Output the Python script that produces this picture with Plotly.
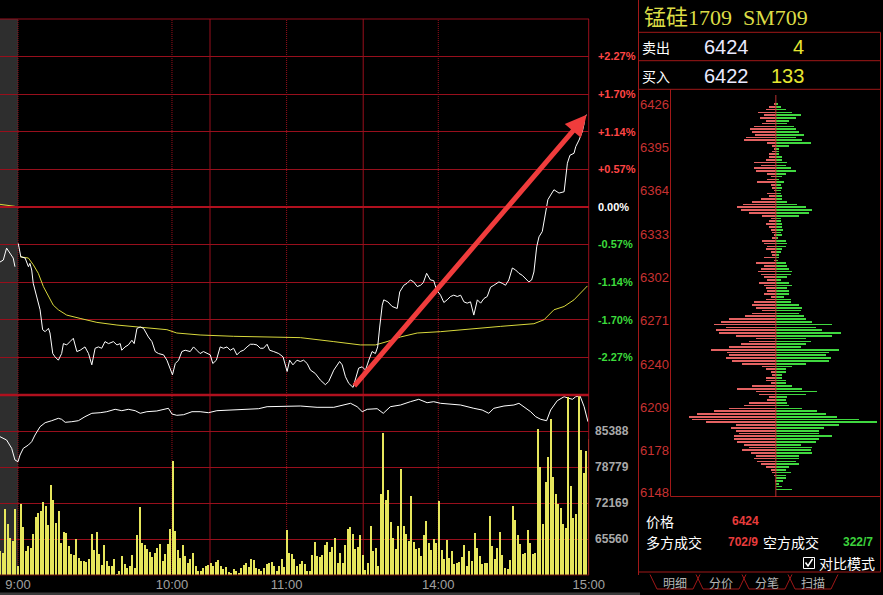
import plotly.graph_objects as go

# ---------------- DATA ----------------
# price line: trading-minute index (0 = 9:00) and % change vs. previous settle
price_minute = [0.1, 1.1, 2.8, 4.1, 4.7, 5.4, 6.0, 7.4, 8.7, 9.7, 10.7, 12.0, 12.6, 13.7, 14.6, 15.9, 17.2, 17.9, 19.2, 20.5,
                21.8, 23.2, 24.5, 26.4, 27.8, 29.1, 30.4, 31.7, 33.0, 34.3, 35.7, 37.6, 39.0, 40.3, 40.9, 42.2, 43.5, 44.9, 45.8, 46.9,
                48.2, 49.5, 51.4, 52.8, 54.1, 55.4, 57.4, 58.7, 60.0, 60.9, 62.0, 63.3, 64.6, 65.9, 67.9, 69.2, 70.5, 71.8, 73.1, 74.5,
                75.8, 76.8, 78.2, 79.7, 81.0, 82.4, 83.7, 85.0, 86.3, 87.6, 88.9, 90.3, 91.6, 92.9, 94.2, 95.5, 96.8, 98.2, 99.2, 100.8,
                102.8, 104.5, 106.1, 107.1, 108.4, 110.0, 111.3, 112.6, 114.0, 115.3, 117.2, 119.2, 121.2, 122.5, 124.5, 126.8, 127.8,
                129.1, 130.4, 132.1, 133.0, 134.3, 135.7, 137.0, 138.3, 139.6, 140.9, 141.8, 142.6, 143.6, 144.2, 145.8, 147.5, 149.5,
                150.5, 152.1, 153.4, 154.7, 156.0, 157.4, 158.7, 159.8, 161.1, 162.6, 163.9, 165.0, 166.6, 167.9, 169.2, 170.5, 171.8,
                173.2, 174.5, 175.8, 177.1, 178.4, 179.7, 181.1, 182.4, 183.7, 185.0, 186.3, 187.6, 189.6, 190.9, 192.2, 193.5, 194.9,
                196.2, 197.5, 198.8, 200.1, 201.4, 202.5, 203.4, 204.5, 205.4, 206.7, 208.0, 208.9, 210.0, 211.3, 213.3, 215.3, 216.6,
                217.6, 219.2, 219.9, 221.2, 222.5, 223.2, 223.4, 224.2]
price_pct = [-0.55, -0.75, -0.77, -0.90, -0.85, -0.95, -1.15, -1.35, -1.55, -1.85, -1.88, -1.83, -1.90, -2.21, -2.26, -2.31, -2.21, -2.06, -2.08, -2.03,
             -1.98, -2.18, -2.16, -2.11, -2.21, -2.38, -2.13, -2.11, -2.13, -2.03, -2.06, -2.03, -2.08, -2.06, -2.16, -2.11, -2.08, -2.01, -2.06, -1.83,
             -1.81, -1.83, -1.96, -2.03, -2.18, -2.21, -2.23, -2.31, -2.46, -2.53, -2.36, -2.31, -2.18, -2.16, -2.18, -2.11, -2.16, -2.21, -2.18, -2.21,
             -2.23, -2.36, -2.31, -2.11, -2.13, -2.11, -2.16, -2.13, -2.23, -2.18, -2.16, -2.11, -2.07, -2.07, -2.08, -2.13, -2.13, -2.07, -2.16, -2.18,
             -2.21, -2.26, -2.48, -2.31, -2.38, -2.31, -2.33, -2.31, -2.36, -2.46, -2.51, -2.61, -2.68, -2.63, -2.46, -2.33, -2.38,
             -2.56, -2.66, -2.72, -2.61, -2.43, -2.41, -2.46, -2.31, -2.18, -2.21, -2.11, -1.81, -1.48, -1.40, -1.43, -1.50, -1.53,
             -1.28, -1.18, -1.15, -1.10, -1.13, -1.20, -1.18, -1.14, -1.00, -1.10, -1.11, -1.25, -1.33, -1.44, -1.40, -1.35, -1.33,
             -1.35, -1.33, -1.43, -1.45, -1.43, -1.63, -1.40, -1.45, -1.38, -1.35, -1.21, -1.18, -1.13, -1.15, -1.18, -1.10, -0.92,
             -0.95, -1.00, -1.03, -1.08, -1.13, -1.10, -0.98, -0.60, -0.45, -0.37, -0.10, 0.11, 0.18, 0.26, 0.21, 0.23, 0.66,
             0.78, 0.81, 0.91, 1.01, 1.14, 1.26, 1.36, 1.39]

# average-price line
avg_minute = [0.8, 4.1, 6.0, 8.0, 10.0, 12.0, 13.9, 15.9, 19.2, 24.5, 31.1, 39.0, 48.2, 58.7, 62.6, 71.8, 85.0, 104.7, 111.3,
              124.5, 135.0, 140.9, 145.5, 150.8, 157.4, 166.6, 177.1, 190.3, 203.4, 207.4, 211.3, 215.3, 219.2, 224.5]
avg_pct = [-0.75, -0.77, -0.87, -1.00, -1.20, -1.35, -1.48, -1.55, -1.63, -1.68, -1.74, -1.78, -1.81, -1.85, -1.90, -1.93, -1.95, -1.96, -1.97,
           -2.03, -2.08, -2.08, -2.03, -1.96, -1.90, -1.88, -1.84, -1.80, -1.76, -1.70, -1.55, -1.50, -1.40, -1.19]

# tail of the previous session (grey strip)
prev_minute = [-7.1, -5.8, -4.5, -3.2, -1.9, -1.2]
prev_pct = [-0.83, -0.80, -0.62, -0.69, -0.77, -0.90]
prev_avg_minute = [-7.1, -1.2]
prev_avg_pct = [0.04, 0.01]

# open interest (lower pane, right axis)
oi_minute = [-7.1, -4.5, -2.5, -1.2, 0, 0.8, 2.1, 4.1, 5.4, 6.7, 8.7, 10.7, 13.3, 15.9, 17.2, 18.6, 21.2, 23.8, 26.4, 29.1,
             32.4, 35.0, 38.3, 40.9, 43.5, 46.2, 48.2, 50.8, 54.7, 59.3, 60.7, 62.6, 65.3, 68.6, 71.8, 75.1, 78.4, 85.0, 91.6, 94.9,
             98.2, 104.7, 111.3, 117.9, 124.5, 131.1, 133.7, 135.7, 137.7, 141.6, 144.0, 146.8, 150.8, 154.7, 158.0, 161.3, 163.9,
             166.6, 170.5, 174.5, 179.7, 183.0, 185.6, 187.6, 191.6, 195.5, 197.5, 199.5, 202.1, 204.1, 206.1, 208.4, 210.0, 212.6,
             215.3, 217.2, 218.6, 219.9, 221.6, 223.2, 224.7]
oi_value = [84341, 83736, 82212, 80064, 79752, 80982, 82212, 82818, 83424, 84654, 86177, 86912, 87279, 87720, 87536, 86985, 87096, 87279, 88014, 88638,
            88748, 88932, 89372, 89115, 89372, 89115, 88638, 88932, 89060, 89556, 88509, 88270, 88381, 88932, 88932, 88748, 89115, 89244, 89372, 89482,
            89849, 89978, 89978, 89739, 89739, 90474, 89849, 88932, 89372, 89482, 88638, 89849, 90162, 90767, 91208, 90584, 90767,
            90474, 90345, 90162, 89556, 89244, 88638, 89556, 89978, 90162, 90474, 89849, 88932, 88014, 87536, 87279, 89244, 90951,
            91686, 91392, 91208, 91686, 91814, 89849, 87096]

# per-minute volume (lots), minute index -7 .. 225
vol_minute = list(range(-7, 226))
volume = [240, 220, 660, 510, 370, 340, 660,
          90, 710, 480, 240, 290, 270, 410, 580, 620, 640, 730, 690, 500, 900, 750, 520, 640, 320, 430, 420,
          290, 210, 200, 360, 170, 140, 140, 130, 160, 410, 250, 430, 210, 100, 300, 140, 90, 90, 160, 10,
          40, 190, 110, 70, 90, 200, 70, 400, 680, 320, 300, 260, 230, 180, 220, 270, 310, 140, 210, 310,
          460, 1140,
          440, 250, 170, 300, 190, 120, 160, 220, 90, 40, 40, 70, 90, 100, 120, 90, 130, 150, 90, 60, 80, 30,
          20, 60, 40, 20, 70, 100, 120, 80, 160, 150, 70, 60, 40, 70, 110, 120, 130, 90, 40, 90, 160, 80,
          450, 220, 210, 160, 90, 110,
          140, 110, 40, 40, 200, 330, 190, 180, 200, 300, 330, 230, 280, 370, 120, 220, 120, 300, 460, 480,
          410, 260, 280, 400, 200, 50, 120, 490, 240, 270, 90, 810, 1420, 750, 850, 530, 370, 260, 490, 1060,
          490, 410, 340, 790, 330, 260, 270, 190, 400, 540, 320, 250, 360, 320, 740, 250, 160, 350, 170, 240,
          110, 120, 130, 180, 300, 90, 240, 140, 420, 270, 190, 110, 120, 120, 590, 290, 160, 270, 430, 200,
          70, 60, 150, 690, 550, 400, 310, 210, 220, 450, 320, 210, 220, 1460, 1080, 510, 930, 1180, 1560, 980,
          810, 710, 670, 510, 470, 1780, 890, 570, 610, 1790, 1250, 1020, 1240, 1360]

# volume-by-price panel
vbp_price = list(range(6426, 6148, -2))
vbp_red = [7, 22, 32, 54, 37, 50, 32, 42, 67, 80, 72, 64, 92, 97, 27, 12, 7, 14, 22, 22,
           32, 67, 47, 67, 62, 27, 17, 27, 57, 17, 12, 7, 27, 22, 47, 72, 100, 117, 107, 82,
           42, 17, 22, 30, 22, 17, 12, 7, 12, 42, 37, 27, 30, 17, 14, 37, 7, 60, 37, 47,
           54, 45, 37, 27, 52, 37, 32, 27, 37, 17, 32, 67, 72, 60, 42, 72, 94, 142, 167, 187,
           152, 182, 172, 122, 62, 82, 107, 142, 197, 147, 142, 152, 132, 102, 42, 32, 17, 12, 32, 32,
           17, 72, 117, 62, 52, 22, 27, 82, 97, 142, 187, 237, 262, 252, 212, 122, 137, 122, 112, 127,
           127, 117, 97, 82, 102, 77, 62, 67, 57, 47, 32, 17, 14, 7, 0, 5, 0, 0, 0]
vbp_green = [6, 13, 28, 48, 73, 58, 38, 33, 53, 58, 68, 83, 58, 78, 103, 38, 8, 8, 8, 18,
             18, 33, 28, 43, 58, 28, 18, 8, 23, 13, 18, 13, 13, 18, 18, 33, 63, 88, 108, 98,
             68, 13, 13, 18, 18, 20, 13, 18, 3, 28, 33, 28, 18, 13, 8, 8, 6, 28, 33, 38,
             48, 43, 33, 13, 38, 48, 33, 38, 38, 23, 43, 43, 68, 78, 73, 68, 83, 88, 108, 168,
             118, 138, 193, 168, 88, 103, 88, 73, 188, 158, 148, 163, 158, 88, 48, 28, 28, 18, 18, 28,
             28, 48, 78, 123, 88, 33, 28, 33, 38, 78, 123, 148, 183, 248, 303, 188, 143, 128, 128, 168,
             128, 118, 73, 108, 103, 108, 68, 68, 58, 68, 38, 28, 43, 28, 28, 20, 8, 18, 48]
vbp_tick_price = [6426, 6395, 6364, 6333, 6302, 6271, 6240, 6209, 6178, 6148]

# axis ticks
time_tickvals = [0, 60.7, 105.9, 165.7, 225]
time_ticktext = ["9:00", "10:00", "11:00", "14:00", "15:00"]
pct_tickvals = [2.268, 1.701, 1.134, 0.567, 0.0, -0.567, -1.134, -1.701, -2.268]
pct_ticktext = ["+2.27%", "+1.70%", "+1.14%", "+0.57%", "0.00%", "-0.57%", "-1.14%", "-1.70%", "-2.27%"]
oi_tickvals = [65560, 72169, 78779, 85388]

assert len(price_minute) == len(price_pct)
assert len(avg_minute) == len(avg_pct)
assert len(oi_minute) == len(oi_value)
assert len(vol_minute) == len(volume), (len(vol_minute), len(volume))
assert len(vbp_price) == len(vbp_red) == len(vbp_green), (len(vbp_price), len(vbp_red), len(vbp_green))

# ---------------- LAYOUT HELPERS ----------------
W, H = 883, 595
def fx(p):
    return p / W
def fy(p):
    return 1 - p / H

GRID = "#980f1c"
GRID2 = "#b0101e"
FONT = "Liberation Sans, Arial, sans-serif"
CJK = "Noto Sans CJK SC, sans-serif"

def pct_label(v, t):
    if v > 0:
        c = "#ff4646"
    elif v < 0:
        c = "#3cdc3c"
    else:
        c = "#ffffff"
    return '<span style="color:%s"><b>%s</b></span>' % (c, t)

fig = go.Figure()

# volume bars
fig.add_trace(go.Bar(x=vol_minute, y=volume, xaxis="x", yaxis="y3", width=0.42,
                     marker=dict(color="#e6e65c", line=dict(width=0)), showlegend=False))
# open interest
fig.add_trace(go.Scatter(x=oi_minute, y=oi_value, xaxis="x", yaxis="y2", mode="lines",
                         line=dict(color="#ffffff", width=1), showlegend=False))
# previous session tail
fig.add_trace(go.Scatter(x=prev_avg_minute, y=prev_avg_pct, xaxis="x", yaxis="y", mode="lines",
                         line=dict(color="#d8d83c", width=1), showlegend=False))
fig.add_trace(go.Scatter(x=prev_minute, y=prev_pct, xaxis="x", yaxis="y", mode="lines",
                         line=dict(color="#ffffff", width=1), showlegend=False))
# average price
fig.add_trace(go.Scatter(x=avg_minute, y=avg_pct, xaxis="x", yaxis="y", mode="lines",
                         line=dict(color="#d8d83c", width=1), showlegend=False))
# price
fig.add_trace(go.Scatter(x=price_minute, y=price_pct, xaxis="x", yaxis="y", mode="lines",
                         line=dict(color="#ffffff", width=1), showlegend=False))
# volume by price
fig.add_trace(go.Bar(y=vbp_price, x=[-v for v in vbp_red], orientation="h", xaxis="x2", yaxis="y4",
                     width=0.5, marker=dict(color="#e46262", line=dict(width=0)), showlegend=False))
fig.add_trace(go.Bar(y=vbp_price, x=vbp_green, orientation="h", xaxis="x2", yaxis="y4",
                     width=0.5, marker=dict(color="#40d840", line=dict(width=0)), showlegend=False))

shapes = []
# grey strip
shapes.append(dict(type="rect", xref="x", yref="paper", x0=-7.1, x1=0, y0=fy(575), y1=fy(19),
                   fillcolor="#2e2e2e", line=dict(width=0), layer="below"))
# vertical grid lines
for xv, dash in [(0, "1px,1px"), (60.7, "1px,1px"), (75.7, "solid"), (105.9, "1px,1px"),
                 (136.1, "solid"), (165.7, "1px,1px")]:
    shapes.append(dict(type="line", xref="x", yref="paper", x0=xv, x1=xv, y0=fy(575), y1=fy(19),
                       line=dict(color=GRID, width=1, dash=dash), layer="below"))
# right border of chart
shapes.append(dict(type="line", xref="paper", yref="paper", x0=fx(588.7), x1=fx(588.7), y0=fy(575), y1=fy(19),
                   line=dict(color=GRID, width=1)))
# top, separator, bottom
shapes.append(dict(type="line", xref="paper", yref="paper", x0=0, x1=fx(589), y0=fy(19), y1=fy(19),
                   line=dict(color=GRID, width=1)))
shapes.append(dict(type="line", xref="paper", yref="paper", x0=0, x1=fx(589), y0=fy(395), y1=fy(395),
                   line=dict(color=GRID2, width=2.5)))
shapes.append(dict(type="line", xref="paper", yref="paper", x0=0, x1=fx(589), y0=fy(575), y1=fy(575),
                   line=dict(color="#6a1010", width=1)))
# zero line
shapes.append(dict(type="line", xref="paper", yref="y", x0=0, x1=fx(589), y0=0, y1=0,
                   line=dict(color=GRID2, width=2.2)))
# bottom grey band
shapes.append(dict(type="rect", xref="paper", yref="paper", x0=0, x1=fx(640), y0=0, y1=fy(592.5),
                   fillcolor="#3a3a3a", line=dict(width=0)))

# right panel frame
RP = "#a01818"
def hline(y, x0, x1, w=1, c=RP):
    shapes.append(dict(type="line", xref="paper", yref="paper", x0=fx(x0), x1=fx(x1), y0=fy(y), y1=fy(y),
                       line=dict(color=c, width=w)))
def vline(x, y0, y1, w=1, c=RP):
    shapes.append(dict(type="line", xref="paper", yref="paper", x0=fx(x), x1=fx(x), y0=fy(y0), y1=fy(y1),
                       line=dict(color=c, width=w)))
vline(638.5, 0, 575)
hline(32.3, 638.5, 880.5)
hline(60.7, 638.5, 880.5)
hline(89.3, 638.5, 880.5)
vline(880.5, 32.3, 572)
vline(670.5, 89.3, 496.5)
hline(496.5, 670.5, 880.5)
hline(572, 638.5, 880.5)
# VBP centre line
shapes.append(dict(type="line", xref="x2", yref="paper", x0=0, x1=0, y0=fy(497), y1=fy(95),
                   line=dict(color="#b83030", width=1)))
# checkbox
shapes.append(dict(type="rect", xref="paper", yref="paper", x0=fx(803.5), x1=fx(814.5), y0=fy(568.5), y1=fy(557.5),
                   line=dict(color="#ffffff", width=1)))
shapes.append(dict(type="path", xref="paper", yref="paper",
                   path="M %f,%f L %f,%f L %f,%f" % (fx(805.5), fy(562.5), fx(808), fy(566), fx(812.5), fy(559)),
                   line=dict(color="#ffffff", width=1.5)))
# tabs
for x0, x1 in [(650, 700), (696, 746), (742, 792), (788, 838)]:
    shapes.append(dict(type="path", xref="paper", yref="paper",
                       path="M %f,%f L %f,%f L %f,%f L %f,%f" % (fx(x0), fy(574.5), fx(x0 + 7), fy(589),
                                                                  fx(x1 - 7), fy(589), fx(x1), fy(574.5)),
                       line=dict(color="#a01818", width=1)))

annotations = []
def txt(x, y, s, size, color, anchor="left", family=CJK, yref="paper", ya="middle"):
    annotations.append(dict(x=x, y=y, xref="paper", yref=yref, text=s, showarrow=False,
                            xanchor=anchor, yanchor=ya, font=dict(size=size, color=color, family=family)))

txt(fx(642), fy(17), "锰硅1709\u00a0\u00a0SM709", 22, "#dcdc46", family="Liberation Serif, Noto Sans CJK SC, serif")
txt(fx(640), fy(47), "卖出", 14, "#ffffff")
txt(fx(751), fy(47), "6424", 20, "#eaeaff", anchor="right", family=FONT)
txt(fx(806), fy(47), "4", 20, "#e6e632", anchor="right", family=FONT)
txt(fx(640), fy(76), "买入", 14, "#ffffff")
txt(fx(751), fy(76), "6422", 20, "#eaeaff", anchor="right", family=FONT)
txt(fx(806), fy(76), "133", 20, "#e6e632", anchor="right", family=FONT)
for p in vbp_tick_price:
    txt(fx(670.5), p, str(p), 13, "#c83232", anchor="right",
        family="Liberation Sans Narrow, Arial Narrow, sans-serif", yref="y4")
txt(fx(644), fy(520.5), "价格", 14, "#ffffff")
txt(fx(730), fy(520.5), "<b>6424</b>", 12, "#e83c3c", family=FONT)
txt(fx(644), fy(541.5), "多方成交", 14, "#ffffff")
txt(fx(726), fy(541.5), "<b>702/9</b>", 12, "#e83c3c", family=FONT)
txt(fx(761), fy(541.5), "空方成交", 14, "#ffffff")
txt(fx(875), fy(541.5), "<b>322/7</b>", 12, "#3cd23c", anchor="right", family=FONT)
txt(fx(817), fy(563), "对比模式", 14, "#ffffff")
for cx, s in [(675, "明细"), (721, "分价"), (767, "分笔"), (813, "扫描")]:
    txt(fx(cx), fy(582), s, 12, "#b4b4b4", anchor="center")

# red arrow
annotations.append(dict(x=price_minute[-1], y=price_pct[-1], xref="x", yref="y",
                        ax=price_minute[99], ay=price_pct[99], axref="x", ayref="y",
                        text="", showarrow=True, arrowhead=2, arrowsize=0.85, arrowwidth=5,
                        arrowcolor="#f03c3c", standoff=0, startstandoff=0))

fig.update_layout(
    width=W, height=H, autosize=False,
    margin=dict(l=0, r=0, t=0, b=0, pad=0, autoexpand=False),
    paper_bgcolor="#000000", plot_bgcolor="#000000",
    barmode="overlay", bargap=0, showlegend=False,
    xaxis=dict(domain=[0, fx(588.7)], range=[-7.1, 225], anchor="y2", showgrid=False, zeroline=False,
               showline=False, tickvals=time_tickvals, ticktext=time_ticktext, ticks="", automargin=False,
               tickfont=dict(family=FONT, size=13, color="#a0a0a0"), fixedrange=True),
    yaxis=dict(domain=[fy(395), fy(19)], range=[-2.835, 2.835], anchor="x", side="right", automargin=False,
               tickvals=pct_tickvals, ticktext=[pct_label(v, t) for v, t in zip(pct_tickvals, pct_ticktext)],
               showgrid=True, gridcolor=GRID, gridwidth=1, zeroline=False, showline=False,
               ticks="outside", ticklen=6, tickcolor="rgba(0,0,0,0)",
               tickfont=dict(family=FONT, size=11, color="#ffffff")),
    yaxis2=dict(domain=[fy(575), fy(395)], range=[58951, 91997], anchor="x", side="right", automargin=False,
                tickvals=oi_tickvals, ticktext=["<b>%d</b>" % v for v in oi_tickvals],
                showgrid=True, gridcolor=GRID, gridwidth=1, zeroline=False, showline=False,
                ticks="outside", ticklen=3, tickcolor="rgba(0,0,0,0)",
                tickfont=dict(family=FONT, size=12, color="#a8a8a8")),
    yaxis3=dict(domain=[fy(575), fy(395)], range=[0, 1800], overlaying="y2", visible=False),
    xaxis2=dict(domain=[fx(670.5), fx(880.5)], range=[-316, 314], anchor="y4", visible=False),
    yaxis4=dict(domain=[fy(496.5), fy(89.3)], range=[6145.1, 6436.75], anchor="x2", visible=False),
    shapes=shapes, annotations=annotations,
)

fig.write_html("out.html", config={"responsive": False, "displayModeBar": False},
               post_script="document.body.style.margin='0';document.body.style.overflow='hidden';")
